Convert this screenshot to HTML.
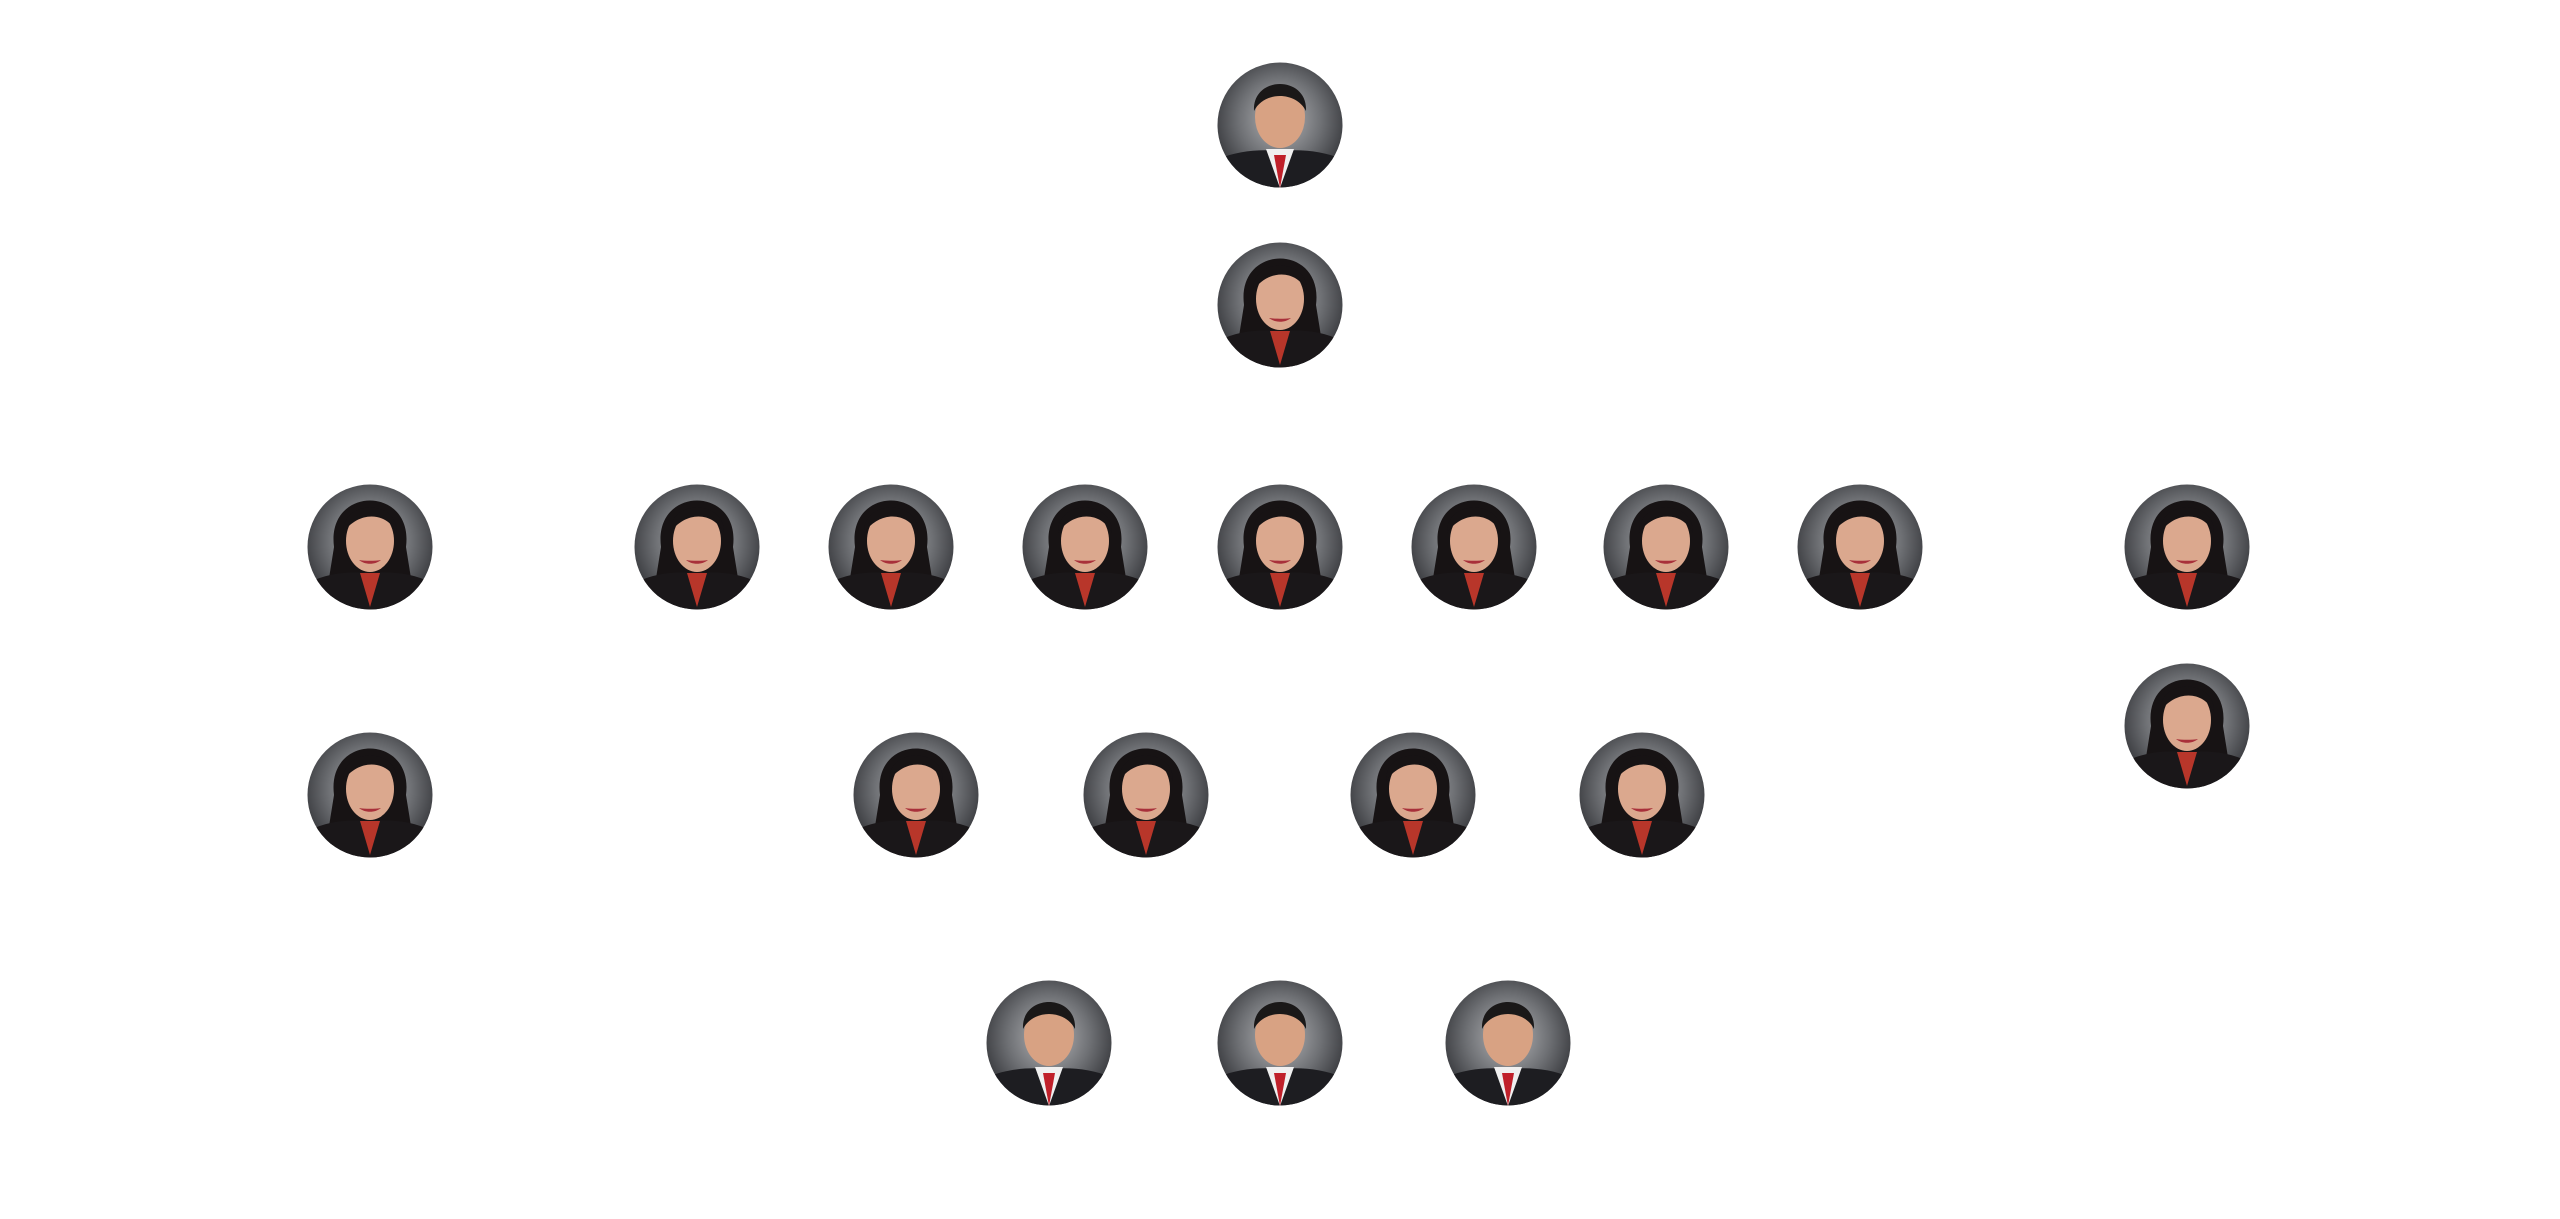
<!DOCTYPE html>
<html><head><meta charset="utf-8"><style>
html,body{margin:0;padding:0;background:#fff;width:2560px;height:1219px;overflow:hidden}
</style></head><body>
<svg width="2560" height="1219" viewBox="0 0 2560 1219" xmlns="http://www.w3.org/2000/svg">
<defs>
<radialGradient id="bg" cx="50%" cy="45%" r="60%"><stop offset="0" stop-color="#b8b9bc"/><stop offset="0.55" stop-color="#6e7074"/><stop offset="1" stop-color="#2c2d31"/></radialGradient>
<clipPath id="c"><circle cx="0" cy="0" r="62.5"/></clipPath>
<g id="f">
<g clip-path="url(#c)">
<rect x="-63" y="-63" width="126" height="126" fill="url(#bg)"/>
<path d="M-36,0 C-44,-62 44,-62 36,0 L44,50 L-44,50 Z" fill="#171314"/>
<path d="M-75,75 L-66,38 C-45,26 -22,24 0,26 C22,24 45,26 66,38 L75,75 Z" fill="#1a1719"/>
<path d="M-10,26 L0,60 L10,26 Z" fill="#b8362a"/>
<ellipse cx="0" cy="-6" rx="24" ry="31" fill="#dba88e"/>
<path d="M-27,-14 C-28,-48 28,-48 27,-14 C16,-36 -12,-36 -27,-14Z" fill="#171314"/>
<path d="M-11,13 C-5,18 5,18 11,13 C5,14 -5,14 -11,13Z" fill="#a8303a"/>
</g></g>
<g id="m">
<g clip-path="url(#c)">
<rect x="-63" y="-63" width="126" height="126" fill="url(#bg)"/>
<path d="M-75,75 L-66,36 C-45,26 -22,24 0,26 C22,24 45,26 66,36 L75,75 Z" fill="#1d1d21"/>
<path d="M-14,24 L0,63 L14,24 Z" fill="#f0f0f0"/>
<path d="M-6,30 L0,63 L6,30 Z" fill="#c0202a"/>
<ellipse cx="0" cy="-8" rx="25" ry="31" fill="#d8a283"/>
<path d="M-26,-14 C-28,-50 28,-50 26,-14 C16,-34 -16,-34 -26,-14Z" fill="#1a1818"/>
</g></g>
</defs>
<use href="#m" x="1280" y="125"/>
<use href="#f" x="1280" y="305"/>
<use href="#f" x="370" y="547"/>
<use href="#f" x="697" y="547"/>
<use href="#f" x="891" y="547"/>
<use href="#f" x="1085" y="547"/>
<use href="#f" x="1280" y="547"/>
<use href="#f" x="1474" y="547"/>
<use href="#f" x="1666" y="547"/>
<use href="#f" x="1860" y="547"/>
<use href="#f" x="2187" y="547"/>
<use href="#f" x="2187" y="726"/>
<use href="#f" x="370" y="795"/>
<use href="#f" x="916" y="795"/>
<use href="#f" x="1146" y="795"/>
<use href="#f" x="1413" y="795"/>
<use href="#f" x="1642" y="795"/>
<use href="#m" x="1049" y="1043"/>
<use href="#m" x="1280" y="1043"/>
<use href="#m" x="1508" y="1043"/>
</svg>
</body></html>
